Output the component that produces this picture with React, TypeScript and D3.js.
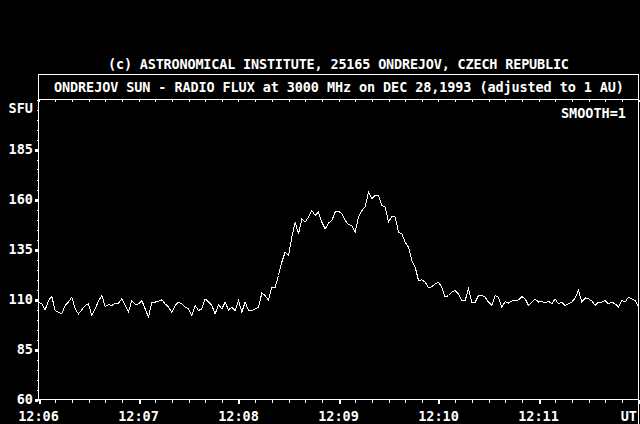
import React from "react";
import * as d3 from "d3";

// ---- data (solar radio flux, SFU, sampled every 2 s from 12:06:00 UT) ----
const START = new Date(1993, 11, 28, 12, 6, 0);
const END = new Date(1993, 11, 28, 12, 12, 0);
const STEP_SECONDS = 2;

const flux0606: number[] = [108.7, 107.8, 104.8, 109.5, 111.5, 104.5, 103.7, 102.8, 107, 108.7, 111.2, 105.3, 102.8, 104.8, 107, 107.8, 102, 105.3, 109.2, 112, 106.5, 107.5, 107, 108.2, 108.2, 110.3, 107, 103.7, 109.5, 107.5];
const flux0607: number[] = [107.8, 109.5, 105.3, 101.2, 108.7, 108.7, 109.2, 109.8, 107.8, 106.2, 103.7, 107, 108.7, 107.8, 106.2, 105.3, 102, 107, 104.5, 105.3, 110.3, 108.7, 107, 102.8, 107.5, 105.3, 108.7, 104.8, 106.2, 104.5];
const flux0608: number[] = [109.5, 103.7, 108.7, 104.5, 104.5, 105.3, 106.2, 113.2, 112, 109.5, 116.2, 116.2, 122, 128.7, 133.7, 132, 141.2, 148.7, 142.8, 150.3, 148.7, 151.2, 154.5, 152, 153.7, 148.7, 145.3, 148.2, 149.5, 153.7];
const flux0609: number[] = [154.2, 152.8, 149.5, 147.5, 147, 143.7, 151.2, 154.5, 156.2, 163.7, 160.3, 162, 162, 157, 156.2, 148.7, 151.5, 151.2, 143.7, 142.8, 138.7, 136.2, 129.5, 126.2, 119.5, 119.8, 118.7, 115.8, 116.5, 117.8];
const flux0610: number[] = [118.7, 116.2, 111.2, 112, 113.7, 114.5, 112.8, 109.5, 109.5, 115.3, 108.7, 108.7, 112, 112, 111.2, 108.7, 107, 112, 111.2, 106.2, 109, 108.2, 109.2, 109.5, 109.8, 111.5, 110.3, 107, 108.7, 110.3];
const flux0611: number[] = [108.7, 109.2, 108.2, 109.2, 107.8, 110.3, 107.8, 108.7, 107, 107.8, 108.7, 110.8, 114.5, 108.7, 110.8, 110.3, 109.2, 107, 108.7, 108.7, 109.5, 107.8, 108.7, 107.8, 106.2, 109.5, 108.7, 111.2, 110.3, 109.5, 106.2];

const yTickValues: number[] = [60, 85, 110, 135, 160, 185];
const xTickLabels: string[] = ["12:06", "12:07", "12:08", "12:09", "12:10", "12:11", "UT"];

const TITLE_TOP = "(c) ASTRONOMICAL INSTITUTE, 25165 ONDREJOV, CZECH REPUBLIC";
const TITLE_BOX = "ONDREJOV SUN - RADIO FLUX at 3000 MHz on DEC 28,1993 (adjusted to 1 AU)";
const Y_UNIT = "SFU";
const SMOOTH_LABEL = "SMOOTH=1";

const allFlux = [...flux0606, ...flux0607, ...flux0608, ...flux0609, ...flux0610, ...flux0611];
const series = allFlux.map((v, i) => ({
  t: new Date(START.getTime() + i * STEP_SECONDS * 1000),
  v,
}));

export default function App() {
  const W = 640;
  const H = 424;
  const left = 38.5;
  const right = 638.5;
  const top = 99.5;
  const bottom = 399.5;
  const boxTop = 74.5;

  const x = d3.scaleTime().domain([START, END]).range([left, right]);
  const y = d3.scaleLinear().domain([60, 210]).range([bottom, top]);

  const line = d3
    .line<{ t: Date; v: number }>()
    .x((d) => x(d.t))
    .y((d) => y(d.v));

  const tenSec = d3.timeSecond.every(10)!.range(START, new Date(END.getTime() + 1));
  const minutes = d3.timeMinute.range(START, new Date(END.getTime() + 1));
  const minorY = d3.range(60, 211, 5);

  const font = "'DejaVu Sans Mono', 'Liberation Mono', monospace";

  return (
    <svg
      width={W}
      height={H}
      style={{ position: "fixed", left: 0, top: 0, background: "#000", display: "block" }}
      fontFamily={font}
      fontWeight="bold"
      fontSize={13.5}
    >
      <rect x={0} y={0} width={W} height={H} fill="#000" />
      <text x={338.5} y={69} fill="#fff" textAnchor="middle" textLength={461} lengthAdjust="spacing">
        {TITLE_TOP}
      </text>
      {/* title box */}
      <rect x={left} y={boxTop} width={right - left} height={top - boxTop} fill="none" stroke="#fff" strokeWidth={1} shapeRendering="crispEdges" />
      <text x={339} y={91.5} fill="#fff" textAnchor="middle" textLength={570} lengthAdjust="spacing">
        {TITLE_BOX}
      </text>
      {/* right border extends to bottom */}
      <line x1={right} x2={right} y1={boxTop} y2={H} stroke="#fff" strokeWidth={1} shapeRendering="crispEdges" />
      {/* left axis */}
      <line x1={left} x2={left} y1={top} y2={bottom} stroke="#fff" strokeWidth={1} shapeRendering="crispEdges" />
      {minorY.map((v) => (
        <line key={"my" + v} x1={left - 2} x2={left} y1={Math.round(y(v)) + 0.5} y2={Math.round(y(v)) + 0.5} stroke="#fff" shapeRendering="crispEdges" />
      ))}
      {yTickValues.map((v) => (
        <g key={"yt" + v}>
          <rect x={left - 3.5} y={Math.round(y(v)) - 1} width={3} height={3} fill="#fff" shapeRendering="crispEdges" />
          <text x={33} y={y(v) + 4.7} fill="#fff" textAnchor="end">
            {v}
          </text>
        </g>
      ))}
      <text x={33} y={112.7} fill="#fff" textAnchor="end">
        {Y_UNIT}
      </text>
      <text x={626} y={117.5} fill="#fff" textAnchor="end">
        {SMOOTH_LABEL}
      </text>
      {/* bottom axis */}
      <line x1={left} x2={right} y1={bottom} y2={bottom} stroke="#fff" strokeWidth={1} shapeRendering="crispEdges" />
      {tenSec.map((t, i) => (
        <g key={"xt" + i}>
          <line x1={Math.round(x(t)) + 0.5} x2={Math.round(x(t)) + 0.5} y1={bottom} y2={bottom + 3} stroke="#fff" shapeRendering="crispEdges" />
          <line x1={Math.round(x(t)) + 0.5} x2={Math.round(x(t)) + 0.5} y1={top} y2={top + 2.5} stroke="#fff" shapeRendering="crispEdges" />
        </g>
      ))}
      {minutes.map((t, i) => (
        <g key={"mt" + i}>
          <rect x={Math.round(x(t))} y={bottom} width={2} height={4.5} fill="#fff" shapeRendering="crispEdges" />
          <text
            x={i === minutes.length - 1 ? 637 : x(t)}
            y={420.5}
            fill="#fff"
            textAnchor={i === minutes.length - 1 ? "end" : "middle"}
          >
            {xTickLabels[i]}
          </text>
        </g>
      ))}
      {/* flux trace */}
      <path d={line(series) ?? ""} fill="none" stroke="#fff" strokeWidth={1} shapeRendering="crispEdges" />
    </svg>
  );
}
